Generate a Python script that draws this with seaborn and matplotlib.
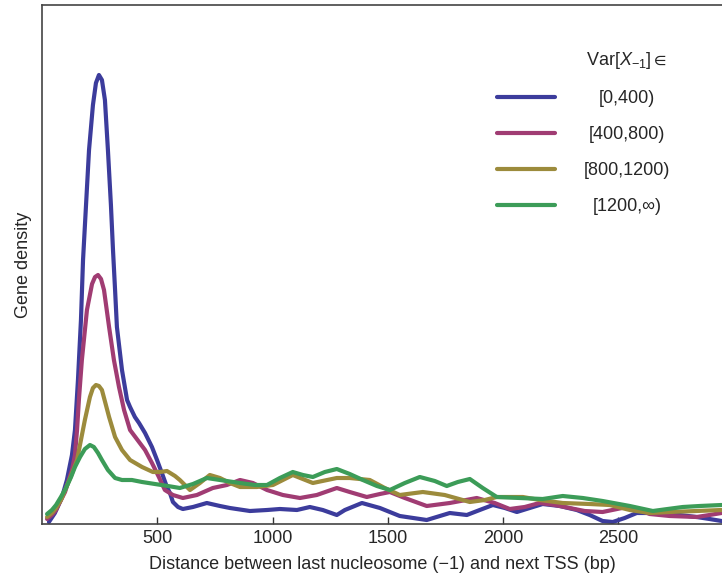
import numpy as np
import pandas as pd
import matplotlib
matplotlib.use("Agg")
import matplotlib.pyplot as plt
import seaborn as sns

# ---- data ----
series_labels = ["[0,400)", "[400,800)", "[800,1200)", "[1200,\u221e)"]
colors = ["#3c3c9c", "#a03c73", "#9c8b3c", "#3c9c58"]

blue_x = [30, 56, 87, 108, 130, 143, 156, 169, 178, 191, 204, 221, 234, 247, 260, 273, 286, 299,
          308, 317, 325, 347, 369, 382, 403, 421, 447, 477, 499, 520, 542, 555, 568, 590, 611,
          655, 715, 772, 815, 902, 976, 1032, 1106, 1162, 1218, 1279, 1314, 1388, 1466, 1552,
          1669, 1769, 1843, 1899, 1956, 2008, 2060, 2116, 2172, 2246, 2320, 2376, 2432, 2476,
          2528, 2580, 2636, 2693, 2766, 2840, 2896, 2948]
blue_y = [2, 11, 27, 44, 69, 94, 144, 204, 264, 319, 374, 419, 441, 449, 444, 424, 374, 319,
          274, 234, 197, 154, 124, 117, 107, 101, 91, 77, 64, 51, 37, 31, 22, 17, 15,
          17, 21, 18, 16, 13, 14, 15, 14, 17, 14, 9, 14, 21, 16, 8,
          4, 11, 9, 14, 19, 16, 12, 16, 20, 18, 14, 9, 3, 2,
          6, 11, 11, 10, 9, 7, 5, 3]

mag_x = [22, 43, 61, 78, 100, 130, 143, 152, 160, 173, 195, 217, 230, 243, 256, 269, 291, 312,
         334, 356, 382, 421, 447, 477, 507, 533, 568, 611, 672, 741, 802, 859, 915, 976, 1045,
         1119, 1192, 1279, 1335, 1409, 1466, 1509, 1574, 1669, 1769, 1886, 1964, 2029, 2094,
         2159, 2224, 2289, 2354, 2432, 2537, 2593, 2636, 2723, 2840, 2896, 2948]
mag_y = [5, 9, 14, 22, 32, 54, 69, 94, 124, 164, 214, 240, 247, 249, 245, 234, 197, 164,
         137, 114, 94, 82, 74, 61, 47, 34, 29, 26, 29, 36, 39, 44, 41, 34, 29,
         26, 29, 36, 32, 27, 30, 32, 26, 18, 21, 26, 21, 15, 17,
         21, 19, 16, 13, 12, 17, 14, 10, 8, 7, 9, 11]

oli_x = [22, 43, 61, 82, 104, 126, 152, 169, 186, 208, 221, 234, 247, 260, 291, 317, 347, 382,
         434, 481, 512, 542, 577, 598, 642, 685, 728, 772, 815, 859, 932, 1002, 1088, 1175,
         1279, 1335, 1422, 1487, 1552, 1652, 1747, 1856, 1921, 1973, 2086, 2159, 2259, 2376,
         2463, 2550, 2636, 2723, 2840, 2948]
oli_y = [7, 11, 16, 24, 36, 48, 64, 84, 104, 127, 136, 139, 138, 134, 107, 87, 74, 64,
         57, 52, 52, 53, 48, 44, 34, 41, 49, 46, 41, 37, 37, 39, 49, 41,
         46, 46, 44, 36, 29, 32, 29, 22, 24, 27, 27, 24, 21, 20,
         19, 14, 11, 12, 13, 14]

grn_x = [22, 43, 61, 82, 104, 126, 143, 165, 186, 208, 225, 243, 260, 286, 317, 347, 390, 434,
         490, 546, 598, 655, 715, 772, 859, 924, 976, 1032, 1088, 1132, 1175, 1227, 1279, 1335,
         1392, 1453, 1509, 1574, 1639, 1704, 1756, 1804, 1856, 1912, 1973, 2073, 2172, 2259,
         2346, 2432, 2550, 2650, 2714, 2780, 2853, 2948]
grn_y = [10, 14, 19, 27, 36, 47, 57, 67, 75, 79, 77, 71, 64, 54, 46, 44, 44, 42,
         40, 38, 36, 40, 46, 44, 41, 39, 39, 46, 52, 49, 47, 52, 55, 50,
         44, 38, 34, 41, 47, 43, 38, 42, 45, 36, 27, 26, 25, 28,
         26, 23, 18, 13, 15, 17, 18, 19]

x_ticks = [500, 1000, 1500, 2000, 2500]

frames = []
for lab, xs, ys in zip(series_labels, [blue_x, mag_x, oli_x, grn_x], [blue_y, mag_y, oli_y, grn_y]):
    frames.append(pd.DataFrame({"distance": xs, "density": ys, "var": lab}))
df = pd.concat(frames, ignore_index=True)

sns.set_style("white")
plt.rcParams["font.family"] = ["Liberation Sans", "DejaVu Sans"]
plt.rcParams["mathtext.fontset"] = "custom"
plt.rcParams["mathtext.rm"] = "Liberation Sans"
plt.rcParams["mathtext.it"] = "Liberation Sans:italic"
plt.rcParams["mathtext.fallback"] = "stixsans"

fig = plt.figure(figsize=(7.22, 5.75), dpi=100)
ax = fig.add_axes([42 / 722, 51 / 575, 1 - 42 / 722, (524 - 5) / 575])

sns.lineplot(data=df, x="distance", y="density", hue="var", hue_order=series_labels,
             palette=colors, linewidth=3.0, ax=ax, sort=False, estimator=None)

ax.set_xlim(0, 2950)
ax.set_ylim(0, 519)
ax.set_xticks(x_ticks)
ax.set_xticklabels([str(t) for t in x_ticks])
ax.set_yticks([])
ax.tick_params(axis="x", direction="in", length=5, width=1, color="#333333",
               labelsize=13, pad=4, bottom=True)
for side in ["left", "bottom", "top"]:
    ax.spines[side].set_color("#444444")
    ax.spines[side].set_linewidth(1.2)
ax.spines["right"].set_visible(False)

ax.set_xlabel("Distance between last nucleosome (\u22121) and next TSS (bp)", fontsize=13, labelpad=7)
ax.set_ylabel("Gene density", fontsize=13, labelpad=7)

handles, labels = ax.get_legend_handles_labels()
leg = ax.legend(handles, labels, title=r"Var[$X_{-1}$]$\in$", frameon=False, fontsize=13,
                title_fontsize=13, handlelength=3.2, handletextpad=1.6, labelspacing=1.05,
                loc="upper left", bbox_to_anchor=(497 / 722, 1 - 50 / 575),
                bbox_transform=fig.transFigure, borderaxespad=0, borderpad=0)
for line in leg.get_lines():
    line.set_linewidth(3.0)

# centre the labels (and the title) over the text column, as in the reference
fig.canvas.draw()
renderer = fig.canvas.get_renderer()
texts = leg.get_texts()
exts = [t.get_window_extent(renderer) for t in texts]
col_left = min(e.x0 for e in exts)
col_right = max(e.x1 for e in exts)
col_c = 0.5 * (col_left + col_right)
for t, e in zip(texts, exts):
    dx = col_c - 0.5 * (e.x0 + e.x1)
    x0, y0 = t.get_position()
    t.set_position((x0 + dx, y0))
title = leg.get_title()
te = title.get_window_extent(renderer)
x0, y0 = title.get_position()
title.set_position((x0 + (col_c - 0.5 * (te.x0 + te.x1)), y0))

fig.savefig("out.png", dpi=100)
